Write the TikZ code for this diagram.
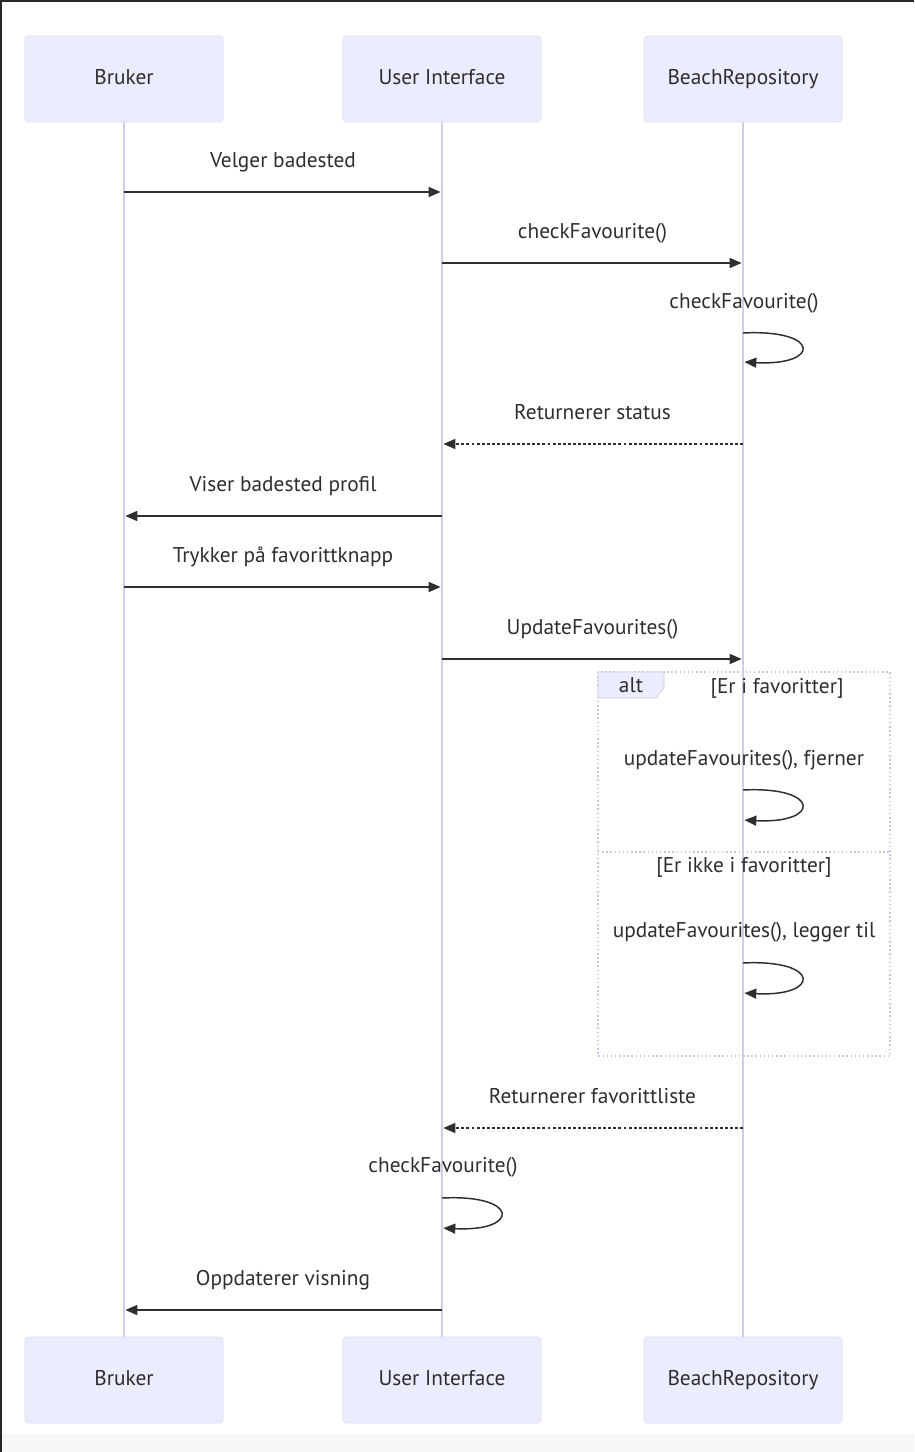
\documentclass[tikz,border=0pt]{standalone}
\usepackage{fontspec}
\setmainfont{PT Sans}
\usetikzlibrary{arrows.meta}
\definecolor{actorfill}{HTML}{ECECFF}
\definecolor{actorline}{HTML}{DCDCF0}
\definecolor{lifeline}{HTML}{CFCDEB}
\definecolor{msgcol}{HTML}{2E2E2E}
\definecolor{altline}{HTML}{C8C8DC}
\begin{document}
\begin{tikzpicture}[x=0.75pt, y=-0.75pt,
    font=\fontsize{16}{19}\selectfont, text=msgcol,
    every node/.style={text height=2ex, text depth=0.3ex},
    >={Triangle[length=9pt,width=7.5pt]},
    actor/.style={draw=actorline, fill=actorfill, rounded corners=2.5pt,
        minimum width=148.5pt, minimum height=64.5pt},
    life/.style={draw=lifeline, line width=1.5pt},
    msg/.style={->, draw=msgcol, line width=1.1pt, shorten >=1pt},
    reply/.style={msg, dash pattern=on 2.2pt off 1.6pt},
    lbl/.style={midway, yshift=23pt},
    altframe/.style={draw=altline, line width=1.1pt, dotted}]
    % frame of the page
    \useasboundingbox (0,0) rectangle (914,1452);
    \fill[black!3] (0,1434) rectangle (914,1452);
    \draw[black!85, line width=1.5pt] (0.75,1452) -- (0.75,0.75) -- (914,0.75);

    % actors, top and bottom
    \node[actor] (bT) at (124,79) {Bruker};
    \node[actor] (uT) at (442,79) {User Interface};
    \node[actor] (rT) at (743,79) {BeachRepository};
    \node[actor] (bB) at (124,1380) {Bruker};
    \node[actor] (uB) at (442,1380) {User Interface};
    \node[actor] (rB) at (743,1380) {BeachRepository};

    \draw[life] (bT) -- (bB);
    \draw[life] (uT) -- (uB);
    \draw[life] (rT) -- (rB);

    % message levels
    \foreach \n/\y in {1/192, 2/263, 3/333, 3e/362, 4/444, 5/516, 6/587, 7/659,
                       8/790, 8e/820, 9/963, 9e/993, 10/1128, 11/1198, 11e/1228, 12/1310}
        \coordinate (l\n) at (0,\y);

    % alt block
    \draw[altframe] (598,672) rectangle (890,1056);
    \draw[altframe] (598,852) -- (890,852);
    \draw[draw=altline, fill=actorfill] (598,672) -- (664,672) -- (664,688)
        -- (656,698) -- (598,698) -- cycle;
    \node (altl) at (631,687) {alt};
    \node (cond1) at (777,688) {[Er i favoritter]};
    \node (cond2) at (744,867) {[Er ikke i favoritter]};

    % messages
    \draw[msg] (bT |- l1) -- node[lbl] (m1) {Velger badested} (uT |- l1);
    \draw[msg] (uT |- l2) -- node[lbl] (m2) {checkFavourite()} (rT |- l2);
    \draw[msg] (rT |- l3) .. controls +(78,-4) and +(78,4) .. (rT |- l3e);
    \node (m3) at (744,303) {checkFavourite()};
    \draw[reply] (rT |- l4) -- node[lbl] (m4) {Returnerer status} (uT |- l4);
    \draw[msg] (uT |- l5) -- node[lbl] (m5) {Viser badested profil} (bT |- l5);
    \draw[msg] (bT |- l6) -- node[lbl] (m6) {Trykker på favorittknapp} (uT |- l6);
    \draw[msg] (uT |- l7) -- node[lbl] (m7) {UpdateFavourites()} (rT |- l7);
    \node (m8) at (744,760) {updateFavourites(), fjerner};
    \draw[msg] (rT |- l8) .. controls +(78,-4) and +(78,4) .. (rT |- l8e);
    \node (m9) at (744,932) {updateFavourites(), legger til};
    \draw[msg] (rT |- l9) .. controls +(78,-4) and +(78,4) .. (rT |- l9e);
    \draw[reply] (rT |- l10) -- node[lbl] (m10) {Returnerer favorittliste} (uT |- l10);
    \node (m11) at (443,1167) {checkFavourite()};
    \draw[msg] (uT |- l11) .. controls +(78,-4) and +(78,4) .. (uT |- l11e);
    \draw[msg] (uT |- l12) -- node[lbl] (m12) {Oppdaterer visning} (bT |- l12);
\end{tikzpicture}
\end{document}
